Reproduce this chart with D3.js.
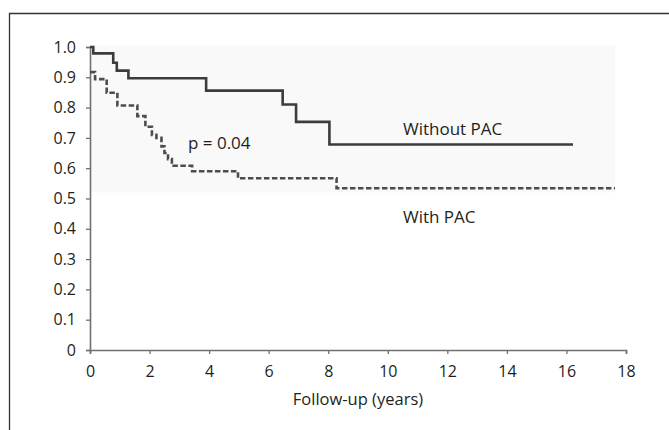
<!DOCTYPE html>
<html>
<head>
<meta charset="utf-8">
<script src="https://cdn.jsdelivr.net/npm/d3@7"></script>
<style>
  html, body { margin: 0; padding: 0; background: #fff; }
  svg { display: block; }
  text { font-family: "Open Sans", "Noto Sans", sans-serif; fill: #231f20; }
</style>
</head>
<body>
<svg id="chart" width="669" height="430"></svg>
<script>
// ---- data ----
const xTicks = [0, 2, 4, 6, 8, 10, 12, 14, 16, 18];
const yTicks = [0, 0.1, 0.2, 0.3, 0.4, 0.5, 0.6, 0.7, 0.8, 0.9, 1.0];
const yTickLabels = ["0", "0.1", "0.2", "0.3", "0.4", "0.5", "0.6", "0.7", "0.8", "0.9", "1.0"];

// Without PAC (solid): step times (years) and survival after each step
const withoutTimes  = [0,    0.11,  0.78,  0.90,  1.29,  3.90,  6.47,  6.92,  8.04,  16.22];
const withoutValues = [1.0,  0.979, 0.948, 0.922, 0.897, 0.856, 0.810, 0.753, 0.678, 0.678];

// With PAC (dashed)
const withTimes  = [0,     0.17,  0.56,  0.92,  1.59,  1.86,  2.08,  2.23,  2.40,  2.50,  2.62,  2.75,  3.43,  4.97,  8.28,  17.63];
const withValues = [0.917, 0.894, 0.849, 0.807, 0.772, 0.737, 0.710, 0.700, 0.672, 0.650, 0.630, 0.608, 0.590, 0.567, 0.534, 0.534];

const seriesLabels = ["Without PAC", "With PAC"];
const pLabel = "p = 0.04";
const xTitle = "Follow-up (years)";

// ---- layout ----
const svg = d3.select("#chart");
const x = d3.scaleLinear().domain([0, 18]).range([90, 626]);
const y = d3.scaleLinear().domain([0, 1]).range([350, 47]);

// outer frame (only left/top edges visible in the crop)
svg.append("path")
  .attr("d", "M9.5,430 L9.5,13.5 L669,13.5")
  .attr("fill", "none").attr("stroke", "#333").attr("stroke-width", 1.3);

// faint plot background
svg.append("rect")
  .attr("x", x(0)).attr("y", y(1.006))
  .attr("width", x(17.63) - x(0)).attr("height", y(0.52) - y(1.006))
  .attr("fill", "#f9f9f9");

// axes
const yAxis = d3.axisLeft(y).tickValues(yTicks).tickSize(4).tickPadding(10)
  .tickFormat((d, i) => yTickLabels[i]);
const xAxis = d3.axisBottom(x).tickValues(xTicks).tickSize(4).tickPadding(12)
  .tickFormat(d3.format("d"));

const gy = svg.append("g").attr("transform", `translate(${x(0)},0)`).call(yAxis);
const gx = svg.append("g").attr("transform", `translate(0,${y(0)})`).call(xAxis);
[gx, gy].forEach(g => {
  g.selectAll("path.domain").attr("stroke", "#707070").attr("stroke-width", 1.6);
  g.selectAll(".tick line").attr("stroke", "#707070").attr("stroke-width", 1.3);
  g.selectAll(".tick text").attr("font-family", "'Open Sans', sans-serif")
    .attr("font-size", 16).attr("fill", "#231f20");
});

// step lines
const line = d3.line().x(d => x(d[0])).y(d => y(d[1])).curve(d3.curveStepAfter);
const solidData = withoutTimes.map((t, i) => [t, withoutValues[i]]);
const dashData = withTimes.map((t, i) => [t, withValues[i]]);

svg.append("path").datum(dashData)
  .attr("d", line).attr("fill", "none")
  .attr("stroke", "#4d4d4d").attr("stroke-width", 2.6)
  .attr("stroke-dasharray", "5.5,2.5");

svg.append("path").datum(solidData)
  .attr("d", line).attr("fill", "none")
  .attr("stroke", "#3c3c3c").attr("stroke-width", 2.6);

// annotations
svg.append("text").attr("x", x(10.51)).attr("y", 135)
  .attr("font-size", 17).text(seriesLabels[0]);
svg.append("text").attr("x", x(10.51)).attr("y", 223)
  .attr("font-size", 17).text(seriesLabels[1]);
svg.append("text").attr("x", x(3.29)).attr("y", 149)
  .attr("font-size", 17).text(pLabel);

// axis title
svg.append("text").attr("x", (x(0) + x(18)) / 2).attr("y", 405)
  .attr("text-anchor", "middle").attr("font-size", 16.5).text(xTitle);
</script>
</body>
</html>
